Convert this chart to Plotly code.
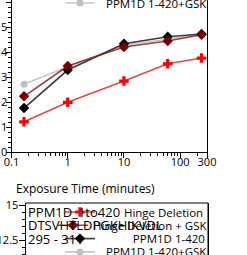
import math
import plotly.graph_objects as go

# ---------------- data ----------------
times_min = [0.167, 1, 10, 60, 240]
hinge_deletion = [1.22, 2.00, 2.85, 3.54, 3.77]
hinge_deletion_gsk = [2.24, 3.45, 4.21, 4.45, 4.70]
ppm1d_1_420 = [1.77, 3.29, 4.34, 4.62, 4.73]
ppm1d_1_420_gsk = [2.72, 3.42, 4.28, 4.52, 4.71]

series_names = ["Hinge Deletion", "Hinge Deletion + GSK", "PPM1D 1-420", "PPM1D 1-420+GSK"]
x_tickvals = [0.1, 1, 10, 100, 300]
x_ticktext = ["0.1", "1", "10", "100", "300"]
x_title = "Exposure Time (minutes)"
peptide_info = ["PPM1D_1to420", "DTSVHTLDPGKHIKVDL", "295 - 311"]

# ---------------- styling ----------------
W, H = 247, 255
FONT = "Open Sans"
NBSP = "\u00a0"


def px(x):
    return x / W


def py(y):
    return 1 - y / H


styles = {
    "Hinge Deletion": dict(line="rgba(228,40,40,0.85)", marker="#ff0000", symbol="cross", size=8),
    "Hinge Deletion + GSK": dict(line="rgba(140,30,30,0.85)", marker="#7a0000", symbol="diamond", size=8),
    "PPM1D 1-420": dict(line="rgba(40,40,40,0.9)", marker="#000000", symbol="diamond", size=8),
    "PPM1D 1-420+GSK": dict(line="#c8c8c8", marker="#c0c0c0", symbol="circle", size=7),
}
# legend rows: right-aligned labels, keys at a common x (label padding in spaces)
legend_fmt = {
    "Hinge Deletion": dict(anchor="left", pad=8),
    "Hinge Deletion + GSK": dict(anchor="right", pad=0),
    "PPM1D 1-420": dict(anchor="left", pad=11),
    "PPM1D 1-420+GSK": dict(anchor="left", pad=2),
}
values = {
    "Hinge Deletion": hinge_deletion,
    "Hinge Deletion + GSK": hinge_deletion_gsk,
    "PPM1D 1-420": ppm1d_1_420,
    "PPM1D 1-420+GSK": ppm1d_1_420_gsk,
}
draw_order = ["PPM1D 1-420+GSK", "PPM1D 1-420", "Hinge Deletion + GSK", "Hinge Deletion"]

row_gap = 13.3
top_last_row = 3.0
bottom_first_row = 212.0
legend_left_x = 60
legend_right_x = 213

fig = go.Figure()

legend_layouts = {}
for k, name in enumerate(series_names):
    top_id = "legend" if k == 0 else f"legend{k + 1}"
    bot_id = f"legend{k + 5}"
    top_row = top_last_row - row_gap * (len(series_names) - 1 - k)
    bot_row = bottom_first_row + row_gap * k
    fmt = legend_fmt[name]
    lx = legend_left_x if fmt["anchor"] == "left" else legend_right_x
    for lid, ry in ((top_id, top_row), (bot_id, bot_row)):
        legend_layouts[lid] = dict(
            x=px(lx), xanchor=fmt["anchor"], y=py(ry), yanchor="middle",
            bgcolor="rgba(0,0,0,0)", borderwidth=0,
            font=dict(family=FONT, size=11.5, color="black"),
        )


def label(name):
    return NBSP * legend_fmt[name]["pad"] + name


for name in draw_order:
    k = series_names.index(name)
    st = styles[name]
    top_id = "legend" if k == 0 else f"legend{k + 1}"
    fig.add_trace(go.Scatter(
        x=times_min, y=values[name], name=label(name), mode="lines+markers",
        line=dict(color=st["line"], width=1.6),
        marker=dict(color=st["marker"], symbol=st["symbol"], size=st["size"]),
        xaxis="x", yaxis="y", legend=top_id,
    ))
# second panel: its data lies below the visible window, only its legend shows
for name in draw_order:
    k = series_names.index(name)
    st = styles[name]
    fig.add_trace(go.Scatter(
        x=[None], y=[None], name=label(name), mode="lines+markers", showlegend=True,
        line=dict(color=st["line"], width=1.6),
        marker=dict(color=st["marker"], symbol=st["symbol"], size=st["size"]),
        xaxis="x2", yaxis="y2", legend=f"legend{k + 5}",
    ))

minor_x = [m * 10 ** e for e in (-1, 0, 1) for m in range(2, 10)] + [200]
xr = [-1, math.log10(300)]

axis_font = dict(family=FONT, size=11, color="black")

fig.update_layout(
    width=W, height=H,
    margin=dict(l=0, r=0, t=0, b=0, autoexpand=False),
    paper_bgcolor="white", plot_bgcolor="white",
    font=dict(family=FONT, size=11, color="black"),
    showlegend=True,
    xaxis=dict(
        type="log", range=xr, domain=[px(11.5), px(207)], anchor="y",
        tickvals=x_tickvals, ticktext=x_ticktext, tickfont=axis_font,
        ticks="outside", ticklen=5, tickcolor="black", ticklabelstandoff=-6,
        showline=True, linecolor="black", linewidth=1, mirror=False,
        showgrid=False, zeroline=False,
        minor=dict(tickvals=minor_x, ticks="outside", ticklen=3, tickcolor="black", showgrid=False),
    ),
    yaxis=dict(
        range=[0, 152.3 / 25], domain=[py(152.3), 1], anchor="x",
        dtick=1, tick0=0, tickfont=axis_font,
        ticks="outside", ticklen=5, tickcolor="black", ticklabelstandoff=-4,
        showline=True, linecolor="black", linewidth=1, mirror=True,
        showgrid=False, zeroline=False,
        minor=dict(dtick=0.2, ticks="outside", ticklen=3, tickcolor="black", showgrid=False),
    ),
    xaxis2=dict(
        type="log", range=xr, domain=[px(25.5), px(208)], anchor="y2", visible=False,
    ),
    yaxis2=dict(
        range=[15 - 50 / 14, 15 + 2 / 14], domain=[0, py(203)], anchor="x2",
        dtick=2.5, tick0=0, tickfont=axis_font,
        ticks="outside", ticklen=6, tickcolor="black", ticklabelstandoff=-2,
        showline=True, linecolor="black", linewidth=1, mirror=True,
        showgrid=False, zeroline=False,
        minor=dict(dtick=0.5, ticks="outside", ticklen=3, tickcolor="black", showgrid=False),
    ),
    shapes=[dict(
        type="rect", xref="paper", yref="paper",
        x0=px(25.5), x1=px(208), y0=py(203), y1=py(300),
        line=dict(color="black", width=1), fillcolor="rgba(0,0,0,0)", layer="above",
    )],
    **legend_layouts,
)

annotations = [dict(
    text=x_title, xref="paper", yref="paper", x=px(85), y=py(188),
    xanchor="center", yanchor="middle", showarrow=False,
    font=dict(family=FONT, size=12, color="black"),
)]
for i, t in enumerate(peptide_info):
    annotations.append(dict(
        text=t, xref="paper", yref="paper", x=px(26), y=py(bottom_first_row + row_gap * i),
        xanchor="left", yanchor="middle", showarrow=False,
        font=dict(family=FONT, size=13, color="black"),
    ))
fig.update_layout(annotations=annotations)

fig.write_html(
    "out.html",
    config={"displayModeBar": False},
    post_script="document.body.style.margin='0';",
)
